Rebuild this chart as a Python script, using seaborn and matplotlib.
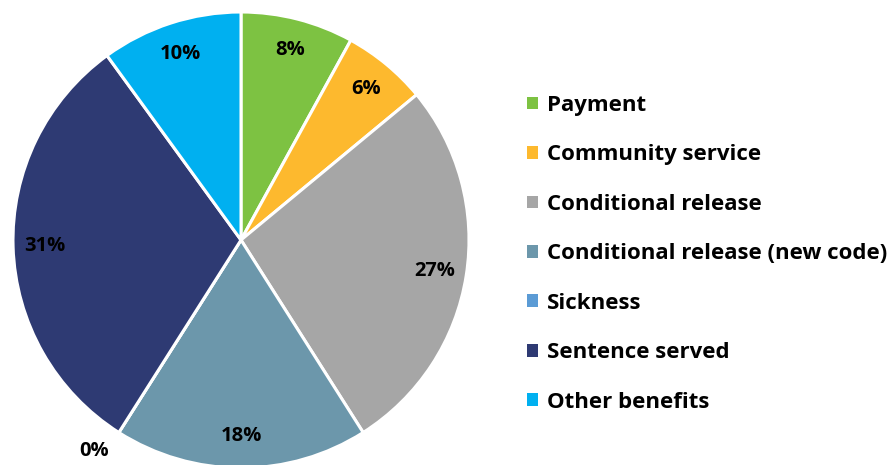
import numpy as np
import matplotlib
matplotlib.use("Agg")
import matplotlib.pyplot as plt
from matplotlib.patches import Patch
import seaborn as sns

categories = ["Payment", "Community service", "Conditional release",
              "Conditional release (new code)", "Sickness",
              "Sentence served", "Other benefits"]
shares = [8, 6, 27, 18, 0, 31, 10]
colors = ["#7DC242", "#FDB92E", "#A6A6A6", "#6C97AB", "#5B9BD5", "#2E3A73", "#00B0F0"]

sns.set_theme(style="white")
plt.rcParams["font.family"] = ["Open Sans", "DejaVu Sans"]
plt.rcParams["font.weight"] = "bold"
plt.rcParams["text.color"] = "black"

W, H = 893, 465
fig = plt.figure(figsize=(W / 100, H / 100), dpi=100)
cx, cy, r = 241, 240, 228
ax = fig.add_axes([(cx - r) / W, (H - cy - r) / H, 2 * r / W, 2 * r / H])

wedges, _ = ax.pie(shares, colors=colors, startangle=90, counterclock=False,
                   radius=1, wedgeprops=dict(edgecolor="white", linewidth=2.2))
ax.set_xlim(-1, 1)
ax.set_ylim(-1, 1)
ax.set_aspect("equal")
ax.axis("off")

# percentage labels at the middle angle of each slice
total = sum(shares)
start = 90.0
for val in shares:
    sweep = 360.0 * val / total
    mid = np.deg2rad(start - sweep / 2)
    dist = 0.86 if val > 0 else 1.13
    if val == 0:
        mid = np.deg2rad(start - 2.5)
    ax.text(dist * np.cos(mid), dist * np.sin(mid), f"{val}%",
            ha="center", va="center", fontsize=14.5, fontweight="bold",
            color="black", clip_on=False)
    start -= sweep

handles = [Patch(facecolor=c, edgecolor="none") for c in colors]
leg = fig.legend(handles, categories, loc="upper left", bbox_to_anchor=(518 / W, 1 - 86 / H),
                 frameon=False, handlelength=0.5, handleheight=0.5,
                 handletextpad=0.4, labelspacing=1.28, borderaxespad=0,
                 prop=dict(weight="bold", size=16))
for t in leg.get_texts():
    t.set_color("black")

fig.savefig("out.png", dpi=100)
